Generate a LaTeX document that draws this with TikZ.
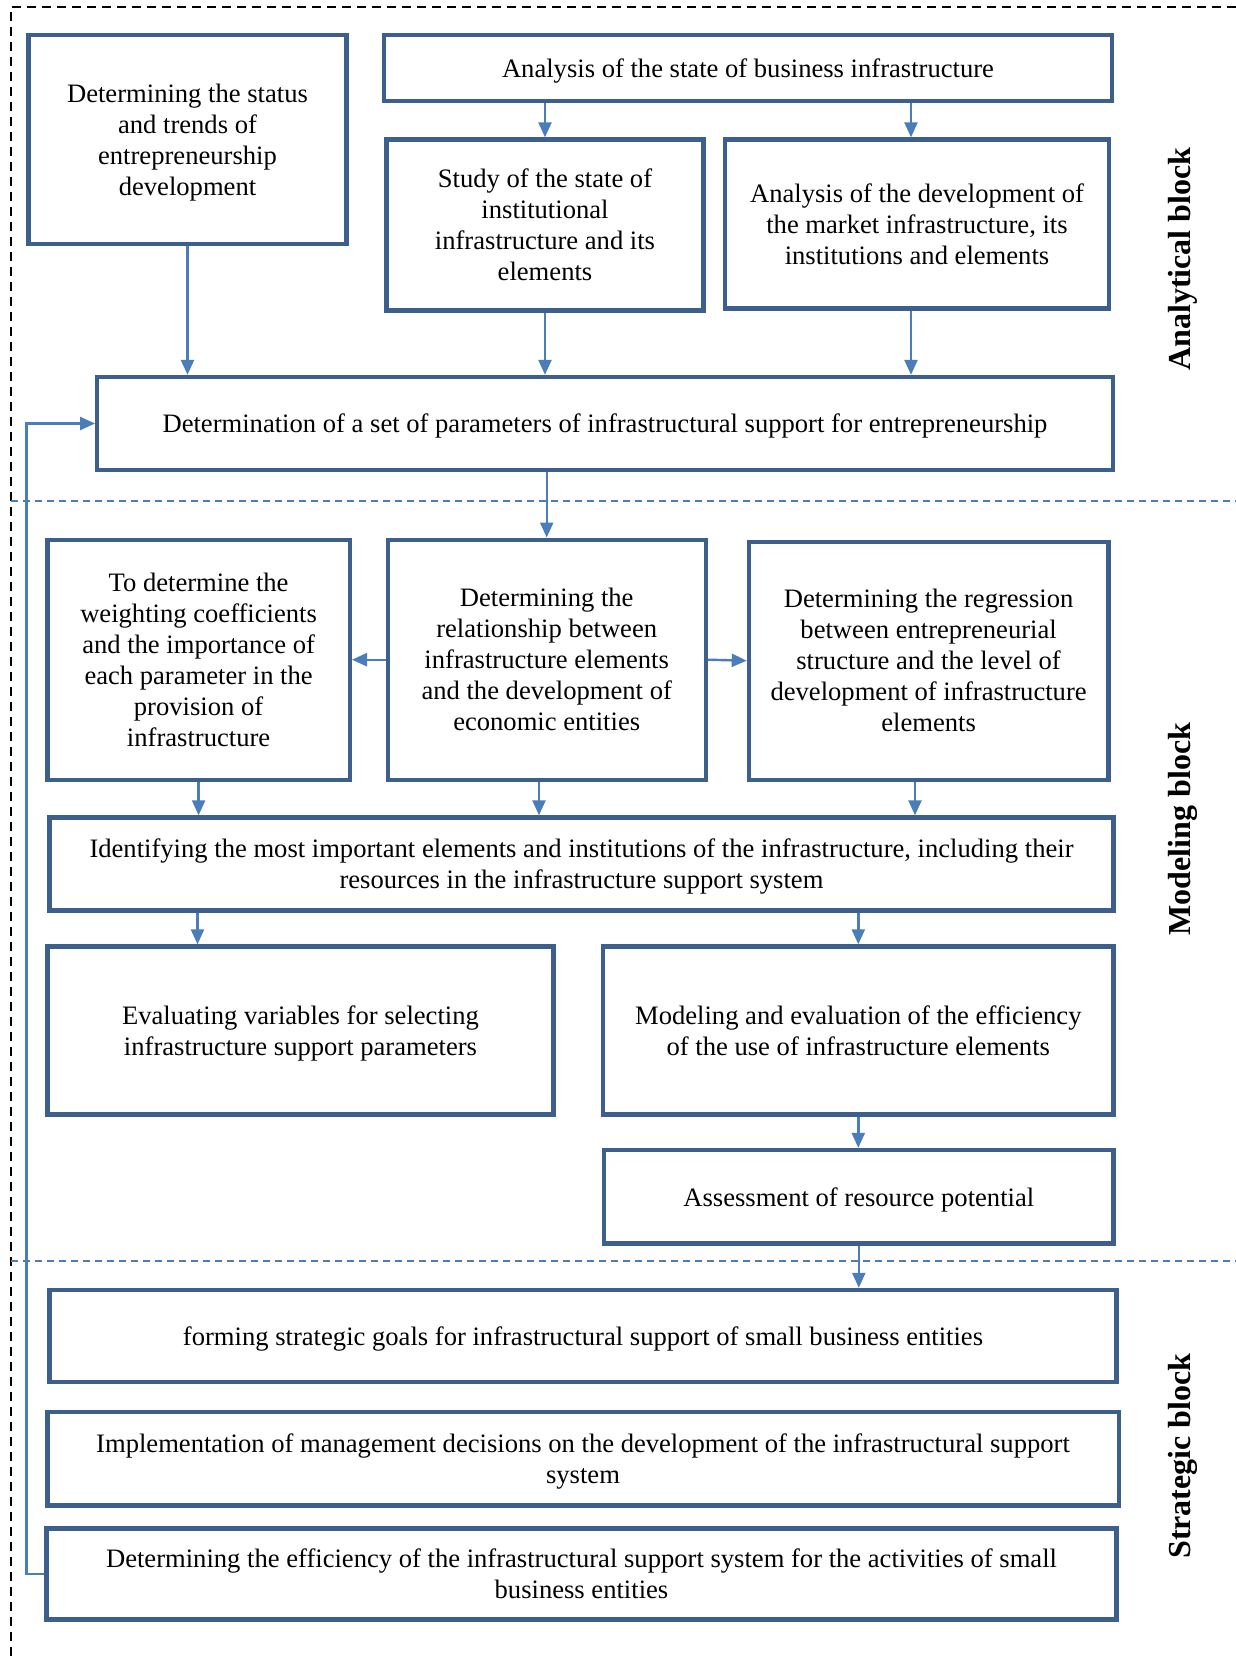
\documentclass[tikz,border=0pt]{standalone}
\usepackage{fontspec}
\setmainfont{Liberation Serif}
\usepackage{tikz}
\usetikzlibrary{arrows.meta}
\definecolor{boxblue}{RGB}{60,95,142}
\definecolor{lineblue}{RGB}{74,126,187}

\begin{document}
\begin{tikzpicture}[x=0.5pt, y=-0.5pt,
        box/.style={draw=boxblue, line width=2.2pt, align=center, inner sep=0pt, text depth=0pt, font=\fontsize{13.3}{15.5}\selectfont},
        arr/.style={draw=lineblue, line width=1.2pt, -{Triangle[length=7.5pt, width=6.5pt]}},
        sep/.style={draw=lineblue, line width=0.75pt, dash pattern=on 3.5pt off 2.5pt},
        side/.style={rotate=90, font=\fontsize{16}{19}\selectfont\bfseries}]
        \useasboundingbox (0,0) rectangle (1236,1656);
        \draw[black, line width=0.85pt, dash pattern=on 4.5pt off 3pt] (1236,7) -- (11,7) -- (11,1656);
        \draw[sep] (11,501) -- (1236,501);
        \draw[sep] (11,1261) -- (1236,1261);

        \node[box, minimum width=159pt, minimum height=104.5pt] (A) at (187.5,139.5) {Determining the status\\and trends of\\entrepreneurship\\development};
        \node[box, minimum width=364pt, minimum height=33.25pt] (B) at (748,68) {Analysis of the state of business infrastructure};
        \node[box, minimum width=158.5pt, minimum height=85.5pt] (C) at (545,225) {Study of the state of\\institutional\\infrastructure and its\\elements};
        \node[box, minimum width=192pt, minimum height=84.5pt] (D) at (917,224) {Analysis of the development of\\the market infrastructure, its\\institutions and elements};
        \node[box, minimum width=507.75pt, minimum height=46.5pt] (E) at (605,423.5) {Determination of a set of parameters of infrastructural support for entrepreneurship};

        \node[box, minimum width=151.2pt, minimum height=120pt] (F) at (198.6,659.7) {To determine the\\weighting coefficients\\and the importance of\\each parameter in the\\provision of\\infrastructure};
        \node[box, minimum width=159pt, minimum height=120pt] (G) at (546.7,659.7) {Determining the\\relationship between\\infrastructure elements\\and the development of\\economic entities};
        \node[box, minimum width=179.7pt, minimum height=119pt] (H) at (928.6,660.7) {Determining the regression\\between entrepreneurial\\structure and the level of\\development of infrastructure\\elements};
        \node[box, minimum width=532pt, minimum height=46.5pt] (I) at (581.5,864) {Identifying the most important elements and institutions of the infrastructure, including their\\resources in the infrastructure support system};
        \node[box, minimum width=253pt, minimum height=84pt] (J) at (300.5,1030.5) {Evaluating variables for selecting\\infrastructure support parameters};
        \node[box, minimum width=255.3pt, minimum height=84pt] (K) at (858.3,1030.5) {Modeling and evaluation of the efficiency\\of the use of infrastructure elements};
        \node[box, minimum width=254.8pt, minimum height=46.75pt] (L) at (858.8,1196.8) {Assessment of resource potential};

        \node[box, minimum width=533.5pt, minimum height=46pt] (M) at (583,1336) {forming strategic goals for infrastructural support of small business entities};
        \node[box, minimum width=535.7pt, minimum height=46.75pt] (N) at (583,1458.8) {Implementation of management decisions on the development of the infrastructural support\\system};
        \node[box, minimum width=535pt, minimum height=45.5pt] (O) at (581.5,1574) {Determining the efficiency of the infrastructural support system for the activities of small\\business entities};

        \node[side] (P) at (1183,259) {Analytical block};
        \node[side] (Q) at (1183,829) {Modeling block};
        \node[side] (R) at (1183,1456) {Strategic block};

        \coordinate (d) at (911,0);
        \coordinate (g) at (539,0);
        \coordinate (h) at (915,0);
        \coordinate (j) at (197.5,0);

        \draw[arr] (A.south) -- (A.south |- E.north);
        \draw[arr] (B.south -| C.north) -- (C.north);
        \draw[arr] (B.south -| d) -- (d |- D.north);
        \draw[arr] (C.south) -- (C.south |- E.north);
        \draw[arr] (D.south -| d) -- (d |- E.north);
        \draw[arr] (G.north |- E.south) -- (G.north);
        \draw[arr] (G.west) -- (F.east);
        \draw[arr] (G.east) -- (H.west);
        \draw[arr] (F.south) -- (F.south |- I.north);
        \draw[arr] (G.south -| g) -- (g |- I.north);
        \draw[arr] (H.south -| h) -- (h |- I.north);
        \draw[arr] (I.south -| j) -- (j |- J.north);
        \draw[arr] (K.north |- I.south) -- (K.north);
        \draw[arr] (K.south) -- (K.south |- L.north);
        \draw[arr] (L.south) -- (L.south |- M.north);
        \draw[arr] (O.west) -- ++(-18,0) |- (E.west);
    \end{tikzpicture}
\end{document}
